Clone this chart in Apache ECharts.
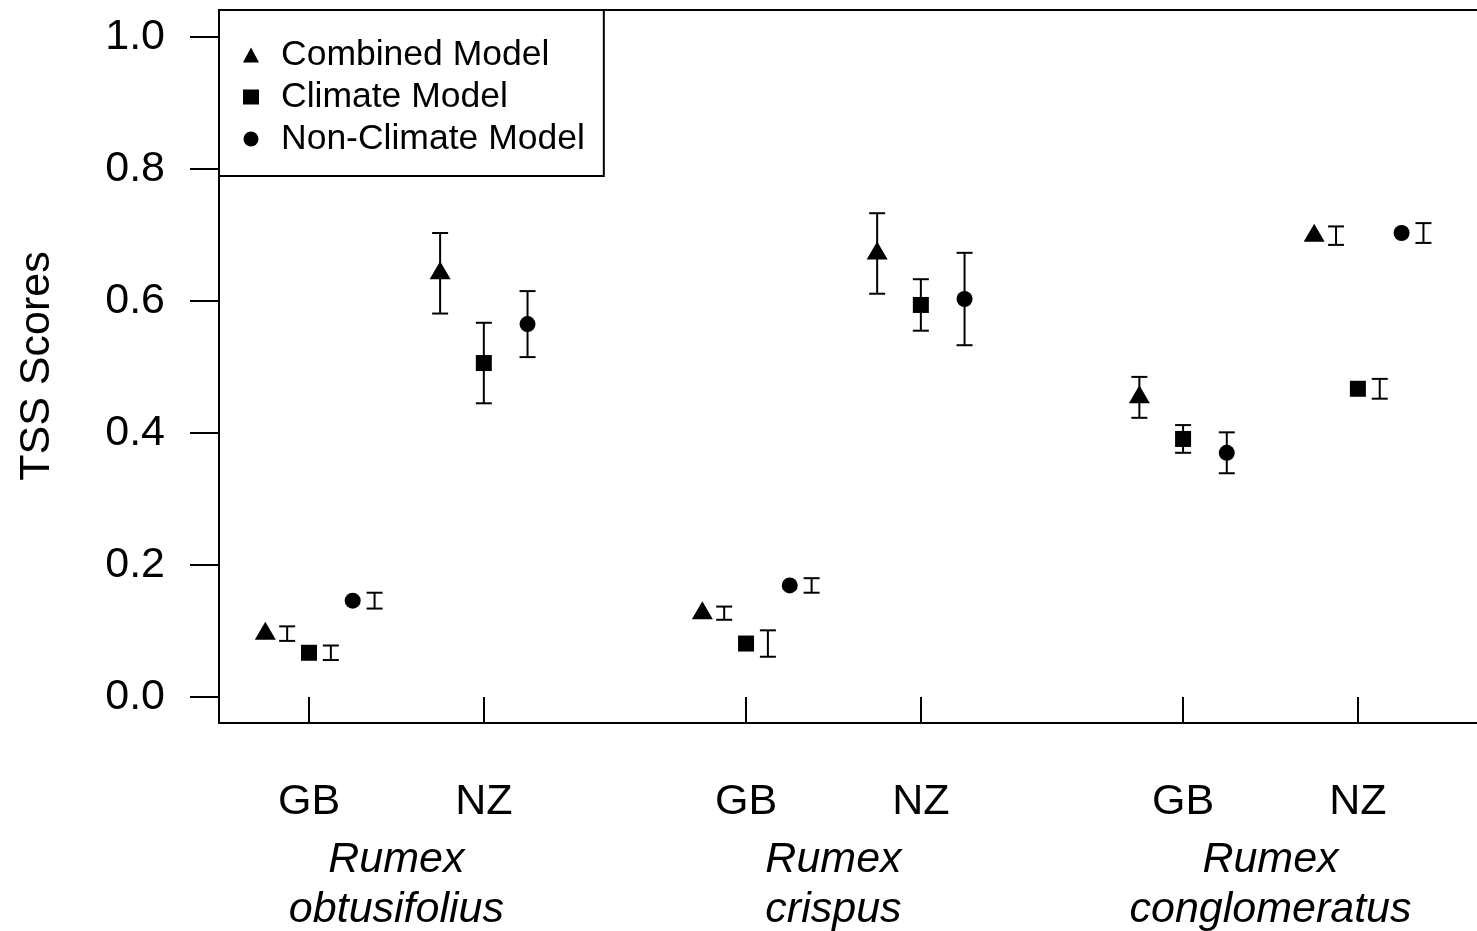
<!DOCTYPE html>
<html>
<head>
<meta charset="utf-8">
<script src="https://cdn.jsdelivr.net/npm/echarts@6/dist/echarts.min.js"></script>
<style>
  html, body { margin: 0; padding: 0; background: #fff; overflow: hidden; }
  #chart { width: 1490px; height: 931px; }
</style>
</head>
<body>
<div id="chart"></div>
<script>
// Sites along the x axis, in order: GB / NZ for each Rumex species
const sitePositions = [1, 2, 3.5, 4.5, 6, 7];
const siteLabels = ['GB', 'NZ', 'GB', 'NZ', 'GB', 'NZ'];
const speciesNames = ['obtusifolius', 'crispus', 'conglomeratus'];
const speciesCentres = [1.5, 4, 6.5];
const yTicks = [0, 0.2, 0.4, 0.6, 0.8, 1.0];

// Mean TSS scores and error half-widths per site (same order as sitePositions)
const combined      = [0.096, 0.642, 0.127, 0.672, 0.454, 0.699];
const combinedErr   = [0.011, 0.061, 0.010, 0.061, 0.031, 0.014];
const climate       = [0.067, 0.506, 0.081, 0.594, 0.391, 0.467];
const climateErr    = [0.011, 0.061, 0.020, 0.039, 0.021, 0.015];
const nonClimate    = [0.146, 0.565, 0.169, 0.603, 0.370, 0.703];
const nonClimateErr = [0.012, 0.050, 0.011, 0.070, 0.031, 0.015];

// Horizontal placement of each model within a site, and error bar shift per site
const modelShift = [-0.25, 0, 0.25];
const errShift = [0.125, 0, 0.125, 0, 0, 0.125];

const FONT = "'Liberation Sans', Arial, sans-serif";

function points(values, m) {
  return values.map((v, i) => [sitePositions[i] + modelShift[m], v]);
}
function bars(values, errs, m) {
  return values.map((v, i) => [sitePositions[i] + modelShift[m] + errShift[i], v - errs[i], v + errs[i]]);
}

function renderErrorBar(params, api) {
  const x = api.value(0);
  const top = api.coord([x, api.value(2)]);
  const bot = api.coord([x, api.value(1)]);
  const half = 8;
  const style = { stroke: '#000', lineWidth: 2 };
  return {
    type: 'group',
    children: [
      { type: 'line', shape: { x1: top[0], y1: top[1], x2: bot[0], y2: bot[1] }, style },
      { type: 'line', shape: { x1: top[0] - half, y1: top[1], x2: top[0] + half, y2: top[1] }, style },
      { type: 'line', shape: { x1: bot[0] - half, y1: bot[1], x2: bot[0] + half, y2: bot[1] }, style }
    ]
  };
}

const chart = echarts.init(document.getElementById('chart'), null, { renderer: 'canvas' });

const markerStyle = { color: '#000', opacity: 1 };

const option = {
  animation: false,
  backgroundColor: '#fff',
  textStyle: { fontFamily: FONT, color: '#000' },
  grid: {
    left: 219, top: 10, right: 1, bottom: 208,
    show: true, borderColor: '#000', borderWidth: 2, backgroundColor: 'transparent'
  },
  xAxis: {
    type: 'value', min: 0.4851, max: 7.75,
    axisLine: { show: false },
    splitLine: { show: false },
    axisTick: {
      show: true, length: 27, inside: false,
      customValues: sitePositions,
      lineStyle: { color: '#000', width: 2 }
    },
    axisLabel: {
      customValues: sitePositions,
      margin: 58,
      fontSize: 43, lineHeight: 43, fontFamily: FONT, color: '#000',
      formatter: v => siteLabels[sitePositions.indexOf(v)]
    }
  },
  yAxis: {
    type: 'value', min: -0.0394, max: 1.0409,
    axisLine: { show: false },
    splitLine: { show: false },
    axisTick: {
      show: true, length: 29, inside: false,
      customValues: yTicks,
      lineStyle: { color: '#000', width: 2 }
    },
    axisLabel: {
      customValues: yTicks,
      margin: 54,
      fontSize: 43, fontFamily: FONT, color: '#000',
      formatter: v => v.toFixed(1)
    }
  },
  legend: {
    orient: 'vertical',
    left: 219, top: 10,
    padding: [24, 19, 16, 24],
    itemGap: 0,
    itemWidth: 16, itemHeight: 15,
    backgroundColor: '#fff',
    borderColor: '#000', borderWidth: 2, borderRadius: 0,
    selectedMode: false,
    itemStyle: { opacity: 1 },
    textStyle: { fontSize: 35.5, lineHeight: 42, fontFamily: FONT, color: '#000', padding: [0, 0, 0, 17] },
    data: [
      { name: 'Combined Model', icon: 'triangle' },
      { name: 'Climate Model', icon: 'rect' },
      { name: 'Non-Climate Model', icon: 'circle' }
    ]
  },
  series: [
    { name: 'Combined Model err', type: 'custom', renderItem: renderErrorBar, data: bars(combined, combinedErr, 0), encode: { x: 0, y: [1, 2] }, z: 1, silent: true },
    { name: 'Climate Model err', type: 'custom', renderItem: renderErrorBar, data: bars(climate, climateErr, 1), encode: { x: 0, y: [1, 2] }, z: 1, silent: true },
    { name: 'Non-Climate Model err', type: 'custom', renderItem: renderErrorBar, data: bars(nonClimate, nonClimateErr, 2), encode: { x: 0, y: [1, 2] }, z: 1, silent: true },
    { name: 'Combined Model', type: 'scatter', symbol: 'triangle', symbolSize: [21, 18], symbolOffset: [0, -3], itemStyle: markerStyle, data: points(combined, 0), z: 3, silent: true },
    { name: 'Climate Model', type: 'scatter', symbol: 'rect', symbolSize: [16, 16], itemStyle: markerStyle, data: points(climate, 1), z: 3, silent: true },
    { name: 'Non-Climate Model', type: 'scatter', symbol: 'circle', symbolSize: 16, itemStyle: markerStyle, data: points(nonClimate, 2), z: 3, silent: true }
  ]
};

chart.setOption(option);

// Axis title and the italic species names under each pair of sites
const graphics = [{
  type: 'text',
  x: 37, y: 366,
  rotation: Math.PI / 2,
  style: { text: 'TSS Scores', font: '43px ' + FONT, fill: '#000', textAlign: 'center', textVerticalAlign: 'middle' }
}];
speciesNames.forEach((name, i) => {
  const px = chart.convertToPixel({ gridIndex: 0 }, [speciesCentres[i], 0])[0];
  graphics.push({
    type: 'text',
    x: px, y: 835,
    style: {
      text: 'Rumex\n' + name,
      font: 'italic 43px ' + FONT,
      lineHeight: 50,
      fill: '#000', textAlign: 'center', textVerticalAlign: 'top'
    }
  });
});
chart.setOption({ graphic: graphics });
</script>
</body>
</html>
